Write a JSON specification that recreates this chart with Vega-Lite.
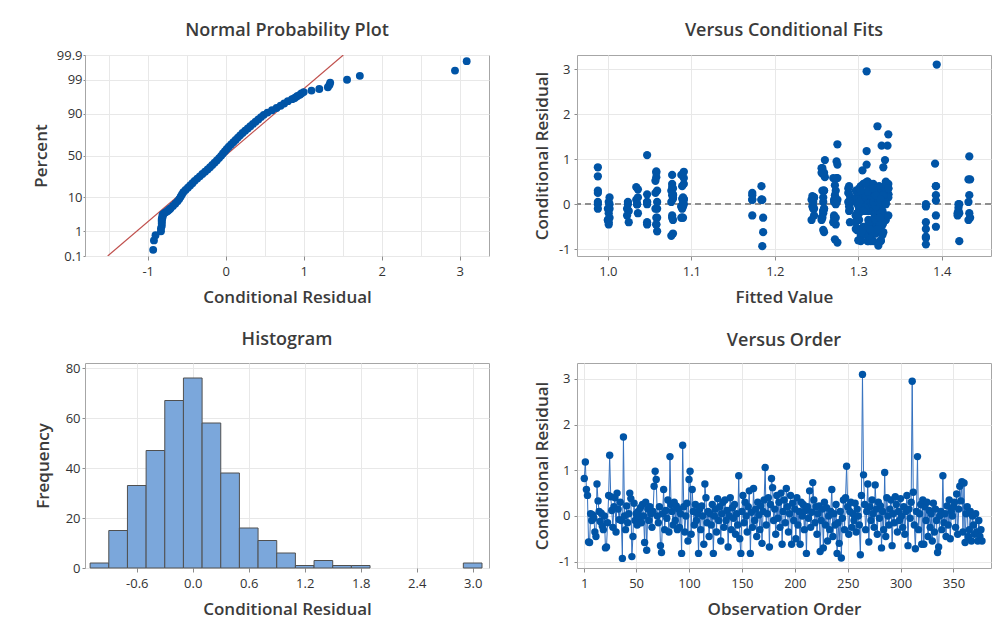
{
"$schema": "https://vega.github.io/schema/vega-lite/v6.json",
"background": "white",
"padding": {"left": 31, "top": 21, "right": 4, "bottom": 2},
"config": {
 "font": "Open Sans",
 "locale": {"number": {"decimal": ".", "thousands": ",", "grouping": [3], "currency": ["$", ""], "minus": "-"}},
 "view": {"stroke": "#a6a6a6", "strokeWidth": 1},
 "axis": {"domain": false, "grid": true, "gridColor": "#e8e8e8", "gridWidth": 1, "tickColor": "#8c8c8c", "tickSize": 4, "labelColor": "#333333", "labelFont": "Open Sans", "labelFontSize": 13, "labelPadding": 5, "titleColor": "#3b3b3b", "titleFont": "Open Sans", "titleFontSize": 17, "titleFontWeight": 600, "labelOverlap": false, "labelFlush": false, "titleBaseline": "alphabetic"},
 "axisLeft": {"tickSize": 3, "labelPadding": 4},
 "title": {"font": "Open Sans", "fontSize": 18, "fontWeight": 600, "color": "#3b3b3b", "anchor": "middle", "frame": "group", "baseline": "alphabetic"}
},
"datasets": {
 "hist": [{"b0":-1.1,"b1":-0.9,"n":2},{"b0":-0.9,"b1":-0.7,"n":15},{"b0":-0.7,"b1":-0.5,"n":33},{"b0":-0.5,"b1":-0.3,"n":47},{"b0":-0.3,"b1":-0.1,"n":67},{"b0":-0.1,"b1":0.1,"n":76},{"b0":0.1,"b1":0.3,"n":58},{"b0":0.3,"b1":0.5,"n":38},{"b0":0.5,"b1":0.7,"n":16},{"b0":0.7,"b1":0.9,"n":11},{"b0":0.9,"b1":1.1,"n":6},{"b0":1.1,"b1":1.3,"n":1},{"b0":1.3,"b1":1.5,"n":3},{"b0":1.5,"b1":1.7,"n":1},{"b0":1.7,"b1":1.9,"n":1},{"b0":2.9,"b1":3.1,"n":2}],
 "ppline": [{"x":-1.513,"z":-3.0902},{"x":1.508,"z":3.0902}],
 "pp": [{"x":-0.93,"z":-2.9},{"x":-0.92,"z":-2.61},{"x":-0.9,"z":-2.45},{"x":-0.83,"z":-2.33},{"x":-0.83,"z":-2.24},{"x":-0.82,"z":-2.17},{"x":-0.82,"z":-2.1},{"x":-0.82,"z":-2.045},{"x":-0.82,"z":-1.995},{"x":-0.82,"z":-1.95},{"x":-0.81,"z":-1.905},{"x":-0.81,"z":-1.866},{"x":-0.81,"z":-1.83},{"x":-0.8,"z":-1.795},{"x":-0.78,"z":-1.762},{"x":-0.76,"z":-1.732},{"x":-0.745,"z":-1.703},{"x":-0.73,"z":-1.676},{"x":-0.72,"z":-1.649},
 {"x":-0.706,"z":-1.62},{"x":-0.676,"z":-1.55},{"x":-0.647,"z":-1.48},{"x":-0.618,"z":-1.41},{"x":-0.596,"z":-1.34},{"x":-0.578,"z":-1.27},{"x":-0.561,"z":-1.2},{"x":-0.543,"z":-1.13},{"x":-0.515,"z":-1.06},{"x":-0.485,"z":-0.99},{"x":-0.456,"z":-0.92},{"x":-0.427,"z":-0.85},{"x":-0.398,"z":-0.78},{"x":-0.365,"z":-0.71},{"x":-0.332,"z":-0.64},{"x":-0.299,"z":-0.57},{"x":-0.265,"z":-0.5},{"x":-0.232,"z":-0.43},{"x":-0.201,"z":-0.36},{"x":-0.172,"z":-0.29},{"x":-0.143,"z":-0.22},{"x":-0.114,"z":-0.15},{"x":-0.085,"z":-0.08},{"x":-0.059,"z":-0.01},{"x":-0.035,"z":0.06},{"x":-0.01,"z":0.13},{"x":0.014,"z":0.2},{"x":0.04,"z":0.27},{"x":0.069,"z":0.34},{"x":0.098,"z":0.41},{"x":0.127,"z":0.48},{"x":0.156,"z":0.55},{"x":0.185,"z":0.62},{"x":0.216,"z":0.69},{"x":0.249,"z":0.76},{"x":0.283,"z":0.83},{"x":0.316,"z":0.9},{"x":0.349,"z":0.97},{"x":0.383,"z":1.04},{"x":0.418,"z":1.11},{"x":0.453,"z":1.18},{"x":0.488,"z":1.25},{"x":0.536,"z":1.32},{"x":0.594,"z":1.39},{"x":0.652,"z":1.46},{"x":0.704,"z":1.53},{"x":0.75,"z":1.6},{"x":0.797,"z":1.67},
 {"x":0.85,"z":1.732},{"x":0.88,"z":1.762},{"x":0.9,"z":1.795},{"x":0.92,"z":1.83},{"x":0.95,"z":1.866},{"x":0.97,"z":1.905},{"x":1.0,"z":1.95},{"x":1.1,"z":1.995},{"x":1.2,"z":2.045},{"x":1.31,"z":2.1},{"x":1.33,"z":2.17},{"x":1.34,"z":2.24},{"x":1.556,"z":2.33},{"x":1.72,"z":2.45},{"x":2.94,"z":2.61},{"x":3.09,"z":2.9}],
 "obs": [
{"o":1,"r":0.82,"f":0.988},{"o":2,"r":1.18,"f":1.31},{"o":3,"r":0.58,"f":1.275},{"o":4,"r":0.45,"f":1.077},{"o":5,"r":-0.57,"f":1.258},{"o":6,"r":-0.58,"f":1.299},{"o":7,"r":0.05,"f":1.001},{"o":8,"r":-0.1,"f":1.306},{"o":9,"r":0.02,"f":1.273},{"o":10,"r":-0.05,"f":1.09},
{"o":11,"r":-0.35,"f":1.312},{"o":12,"r":-0.45,"f":1.058},{"o":13,"r":0.7,"f":1.259},{"o":14,"r":0.33,"f":1.318},{"o":15,"r":0.1,"f":1.246},{"o":16,"r":-0.12,"f":1.324},{"o":17,"r":0.06,"f":1.289},{"o":18,"r":-0.22,"f":1.33},{"o":19,"r":-0.3,"f":1.271},{"o":20,"r":0.0,"f":1.035},
{"o":21,"r":-0.7,"f":1.303},{"o":22,"r":-0.68,"f":1.306},{"o":23,"r":-0.15,"f":1.309},{"o":24,"r":0.45,"f":1.091},{"o":25,"r":1.33,"f":1.275},{"o":26,"r":0.42,"f":1.315},{"o":27,"r":0.12,"f":1.078},{"o":28,"r":-0.25,"f":1.321},{"o":29,"r":0.2,"f":1.433},{"o":30,"r":0.4,"f":1.393},
{"o":31,"r":-0.35,"f":1.327},{"o":32,"r":0.5,"f":1.333},{"o":33,"r":0.15,"f":1.301},{"o":34,"r":-0.08,"f":1.42},{"o":35,"r":0.3,"f":1.314},{"o":36,"r":-0.1,"f":1.326},{"o":37,"r":-0.93,"f":1.185},{"o":38,"r":1.73,"f":1.323},{"o":39,"r":0.0,"f":1.024},{"o":40,"r":-0.3,"f":1.273},
{"o":41,"r":0.22,"f":1.336},{"o":42,"r":-0.15,"f":1.258},{"o":43,"r":0.05,"f":1.297},{"o":44,"r":0.5,"f":1.311},{"o":45,"r":0.38,"f":1.319},{"o":46,"r":-0.89,"f":1.381},{"o":47,"r":-0.45,"f":1.001},{"o":48,"r":0.28,"f":1.329},{"o":49,"r":-0.1,"f":1.247},{"o":50,"r":0.05,"f":1.047},
{"o":51,"r":-0.2,"f":1.299},{"o":52,"r":0.1,"f":1.184},{"o":53,"r":-0.05,"f":1.306},{"o":54,"r":0.18,"f":1.29},{"o":55,"r":-0.15,"f":1.312},{"o":56,"r":0.25,"f":1.318},{"o":57,"r":0.0,"f":0.988},{"o":58,"r":-0.58,"f":1.324},{"o":59,"r":0.3,"f":1.059},{"o":60,"r":-0.75,"f":1.381},
{"o":61,"r":0.15,"f":1.33},{"o":62,"r":-0.1,"f":1.089},{"o":63,"r":0.2,"f":1.303},{"o":64,"r":0.05,"f":1.076},{"o":65,"r":-0.25,"f":1.173},{"o":66,"r":0.1,"f":1.309},{"o":67,"r":0.65,"f":1.077},{"o":68,"r":0.98,"f":1.26},{"o":69,"r":0.8,"f":1.256},{"o":70,"r":0.0,"f":1.002},
{"o":71,"r":-0.15,"f":1.315},{"o":72,"r":0.2,"f":1.272},{"o":73,"r":-0.65,"f":1.321},{"o":74,"r":-0.8,"f":1.327},{"o":75,"r":0.05,"f":1.09},{"o":76,"r":0.58,"f":1.274},{"o":77,"r":-0.3,"f":1.058},{"o":78,"r":0.12,"f":1.333},{"o":79,"r":-0.05,"f":1.245},{"o":80,"r":0.35,"f":1.288},
{"o":81,"r":-0.35,"f":1.301},{"o":82,"r":1.3,"f":1.328},{"o":83,"r":0.25,"f":1.314},{"o":84,"r":0.1,"f":1.271},{"o":85,"r":-0.2,"f":1.036},{"o":86,"r":0.3,"f":1.326},{"o":87,"r":-0.1,"f":1.259},{"o":88,"r":0.22,"f":1.336},{"o":89,"r":-0.3,"f":1.088},{"o":90,"r":0.15,"f":1.078},
{"o":91,"r":-0.25,"f":1.297},{"o":92,"r":0.05,"f":1.432},{"o":93,"r":-0.82,"f":1.311},{"o":94,"r":1.55,"f":1.336},{"o":95,"r":0.2,"f":1.393},{"o":96,"r":-0.35,"f":1.319},{"o":97,"r":0.0,"f":1.421},{"o":98,"r":0.28,"f":1.329},{"o":99,"r":-0.55,"f":1.299},{"o":100,"r":0.8,"f":1.257},
{"o":101,"r":0.98,"f":1.332},{"o":102,"r":-0.4,"f":1.025},{"o":103,"r":0.58,"f":1.091},{"o":104,"r":0.1,"f":1.273},{"o":105,"r":-0.2,"f":1.258},{"o":106,"r":0.25,"f":1.306},{"o":107,"r":-0.1,"f":1.0},{"o":108,"r":0.05,"f":1.312},{"o":109,"r":-0.82,"f":1.318},{"o":110,"r":0.15,"f":1.247},
{"o":111,"r":-0.3,"f":1.324},{"o":112,"r":0.22,"f":1.047},{"o":113,"r":0.0,"f":1.33},{"o":114,"r":-0.62,"f":1.186},{"o":115,"r":0.7,"f":1.256},{"o":116,"r":0.4,"f":1.303},{"o":117,"r":-0.15,"f":1.289},{"o":118,"r":0.1,"f":1.309},{"o":119,"r":-0.45,"f":1.315},{"o":120,"r":0.05,"f":0.988},
{"o":121,"r":-0.2,"f":1.321},{"o":122,"r":0.25,"f":1.057},{"o":123,"r":-0.82,"f":1.327},{"o":124,"r":0.0,"f":1.381},{"o":125,"r":0.15,"f":1.09},{"o":126,"r":-0.35,"f":1.333},{"o":127,"r":0.38,"f":1.077},{"o":128,"r":-0.1,"f":1.301},{"o":129,"r":0.2,"f":1.173},{"o":130,"r":-0.55,"f":1.302},
{"o":131,"r":0.05,"f":1.314},{"o":132,"r":0.3,"f":1.259},{"o":133,"r":-0.25,"f":1.326},{"o":134,"r":0.35,"f":1.336},{"o":135,"r":-0.1,"f":1.001},{"o":136,"r":0.12,"f":1.297},{"o":137,"r":-0.68,"f":1.317},{"o":138,"r":0.0,"f":1.311},{"o":139,"r":0.4,"f":1.089},{"o":140,"r":-0.3,"f":1.059},
{"o":141,"r":0.18,"f":1.319},{"o":142,"r":-0.05,"f":1.246},{"o":143,"r":0.25,"f":1.329},{"o":144,"r":-0.4,"f":1.29},{"o":145,"r":0.05,"f":1.274},{"o":146,"r":-0.2,"f":1.299},{"o":147,"r":0.88,"f":1.31},{"o":148,"r":-0.5,"f":1.306},{"o":149,"r":-0.82,"f":1.312},{"o":150,"r":0.1,"f":1.034},
{"o":151,"r":0.45,"f":1.318},{"o":152,"r":-0.15,"f":1.258},{"o":153,"r":0.3,"f":1.324},{"o":154,"r":0.0,"f":1.091},{"o":155,"r":-0.35,"f":1.078},{"o":156,"r":0.2,"f":1.33},{"o":157,"r":0.55,"f":1.434},{"o":158,"r":-0.82,"f":1.303},{"o":159,"r":0.08,"f":1.393},{"o":160,"r":-0.25,"f":1.419},
{"o":161,"r":0.6,"f":1.058},{"o":162,"r":-0.1,"f":1.023},{"o":163,"r":0.15,"f":1.309},{"o":164,"r":-0.45,"f":1.273},{"o":165,"r":0.3,"f":1.257},{"o":166,"r":0.02,"f":1.315},{"o":167,"r":-0.3,"f":1.002},{"o":168,"r":0.22,"f":1.321},{"o":169,"r":-0.6,"f":1.327},{"o":170,"r":0.1,"f":1.244},
{"o":171,"r":0.35,"f":1.333},{"o":172,"r":1.06,"f":1.433},{"o":173,"r":-0.2,"f":1.301},{"o":174,"r":0.05,"f":1.047},{"o":175,"r":0.4,"f":1.184},{"o":176,"r":-0.68,"f":1.314},{"o":177,"r":0.25,"f":1.288},{"o":178,"r":0.82,"f":1.33},{"o":179,"r":0.62,"f":0.988},{"o":180,"r":-0.1,"f":1.059},
{"o":181,"r":0.15,"f":1.326},{"o":182,"r":-0.4,"f":1.381},{"o":183,"r":0.45,"f":1.336},{"o":184,"r":-0.05,"f":1.088},{"o":185,"r":0.3,"f":1.076},{"o":186,"r":-0.25,"f":1.297},{"o":187,"r":0.5,"f":1.311},{"o":188,"r":-0.62,"f":1.319},{"o":189,"r":0.1,"f":1.173},{"o":190,"r":0.35,"f":1.078},
{"o":191,"r":-0.15,"f":1.329},{"o":192,"r":0.6,"f":1.26},{"o":193,"r":0.2,"f":1.299},{"o":194,"r":-0.35,"f":1.0},{"o":195,"r":0.05,"f":1.271},{"o":196,"r":0.45,"f":1.306},{"o":197,"r":-0.62,"f":1.329},{"o":198,"r":0.28,"f":1.312},{"o":199,"r":-0.1,"f":1.057},{"o":200,"r":0.15,"f":1.247},
{"o":201,"r":-0.5,"f":1.318},{"o":202,"r":0.4,"f":1.289},{"o":203,"r":-0.2,"f":1.324},{"o":204,"r":0.1,"f":1.275},{"o":205,"r":-0.62,"f":1.33},{"o":206,"r":0.3,"f":1.303},{"o":207,"r":0.0,"f":1.035},{"o":208,"r":0.25,"f":1.309},{"o":209,"r":-0.3,"f":1.256},{"o":210,"r":0.12,"f":1.091},
{"o":211,"r":-0.82,"f":1.315},{"o":212,"r":0.2,"f":1.077},{"o":213,"r":-0.05,"f":1.321},{"o":214,"r":0.55,"f":1.432},{"o":215,"r":-0.25,"f":1.393},{"o":216,"r":0.08,"f":1.327},{"o":217,"r":0.73,"f":1.058},{"o":218,"r":0.35,"f":1.333},{"o":219,"r":-0.15,"f":1.42},{"o":220,"r":0.2,"f":1.301},
{"o":221,"r":-0.4,"f":1.314},{"o":222,"r":0.05,"f":1.024},{"o":223,"r":0.22,"f":1.326},{"o":224,"r":-0.78,"f":1.272},{"o":225,"r":-0.1,"f":1.259},{"o":226,"r":0.15,"f":1.336},{"o":227,"r":-0.7,"f":1.313},{"o":228,"r":0.3,"f":1.297},{"o":229,"r":-0.2,"f":1.001},{"o":230,"r":0.18,"f":1.245},
{"o":231,"r":-0.55,"f":1.311},{"o":232,"r":0.0,"f":1.047},{"o":233,"r":-0.3,"f":1.319},{"o":234,"r":0.1,"f":1.185},{"o":235,"r":0.58,"f":1.27},{"o":236,"r":-0.45,"f":1.329},{"o":237,"r":0.05,"f":1.29},{"o":238,"r":-0.2,"f":1.299},{"o":239,"r":0.25,"f":0.988},{"o":240,"r":-0.82,"f":1.421},
{"o":241,"r":-0.15,"f":1.306},{"o":242,"r":-0.6,"f":1.059},{"o":243,"r":0.1,"f":1.312},{"o":244,"r":-0.92,"f":1.324},{"o":245,"r":-0.05,"f":1.381},{"o":246,"r":0.35,"f":1.318},{"o":247,"r":-0.3,"f":1.089},{"o":248,"r":0.4,"f":1.325},{"o":249,"r":1.09,"f":1.047},{"o":250,"r":0.2,"f":1.078},
{"o":251,"r":-0.4,"f":1.33},{"o":252,"r":0.1,"f":1.173},{"o":253,"r":0.3,"f":1.303},{"o":254,"r":-0.25,"f":1.077},{"o":255,"r":0.05,"f":1.258},{"o":256,"r":-0.1,"f":1.309},{"o":257,"r":0.28,"f":1.315},{"o":258,"r":-0.35,"f":1.321},{"o":259,"r":0.15,"f":1.002},{"o":260,"r":0.0,"f":1.273},
{"o":261,"r":-0.2,"f":1.327},{"o":262,"r":-0.85,"f":1.275},{"o":263,"r":0.45,"f":1.333},{"o":264,"r":3.1,"f":1.394},{"o":265,"r":0.9,"f":1.392},{"o":266,"r":0.25,"f":1.301},{"o":267,"r":-0.3,"f":1.09},{"o":268,"r":0.1,"f":1.314},{"o":269,"r":0.7,"f":1.058},{"o":270,"r":-0.57,"f":1.322},
{"o":271,"r":0.2,"f":1.326},{"o":272,"r":-0.1,"f":1.246},{"o":273,"r":0.35,"f":1.336},{"o":274,"r":0.05,"f":1.288},{"o":275,"r":-0.25,"f":1.271},{"o":276,"r":0.68,"f":1.257},{"o":277,"r":0.15,"f":1.036},{"o":278,"r":-0.4,"f":1.297},{"o":279,"r":0.3,"f":1.259},{"o":280,"r":-0.05,"f":1.088},
{"o":281,"r":0.22,"f":1.311},{"o":282,"r":-0.7,"f":1.076},{"o":283,"r":0.1,"f":1.319},{"o":284,"r":-0.3,"f":1.434},{"o":285,"r":0.95,"f":1.274},{"o":286,"r":-0.45,"f":1.329},{"o":287,"r":0.4,"f":1.393},{"o":288,"r":0.0,"f":1.299},{"o":289,"r":-0.2,"f":1.419},{"o":290,"r":0.15,"f":1.306},
{"o":291,"r":0.35,"f":1.312},{"o":292,"r":-0.65,"f":1.308},{"o":293,"r":0.05,"f":1.318},{"o":294,"r":-0.15,"f":1.025},{"o":295,"r":0.42,"f":1.272},{"o":296,"r":0.25,"f":1.324},{"o":297,"r":-0.35,"f":1.256},{"o":298,"r":0.1,"f":1.33},{"o":299,"r":-0.1,"f":1.001},{"o":300,"r":0.38,"f":1.034},
{"o":301,"r":0.0,"f":1.303},{"o":302,"r":-0.25,"f":1.247},{"o":303,"r":0.2,"f":1.309},{"o":304,"r":-0.4,"f":1.047},{"o":305,"r":0.1,"f":1.184},{"o":306,"r":0.45,"f":1.315},{"o":307,"r":-0.65,"f":1.078},{"o":308,"r":0.15,"f":1.321},{"o":309,"r":-0.05,"f":1.289},{"o":310,"r":0.3,"f":0.988},
{"o":311,"r":2.95,"f":1.31},{"o":312,"r":0.52,"f":1.057},{"o":313,"r":-0.2,"f":1.327},{"o":314,"r":-0.72,"f":1.381},{"o":315,"r":0.1,"f":1.091},{"o":316,"r":1.3,"f":1.335},{"o":317,"r":-0.3,"f":1.077},{"o":318,"r":0.05,"f":1.333},{"o":319,"r":0.25,"f":1.173},{"o":320,"r":-0.62,"f":1.304},
{"o":321,"r":0.35,"f":1.301},{"o":322,"r":-0.62,"f":1.259},{"o":323,"r":0.2,"f":1.314},{"o":324,"r":-0.1,"f":1.002},{"o":325,"r":0.3,"f":1.273},{"o":326,"r":-0.45,"f":1.326},{"o":327,"r":0.12,"f":1.089},{"o":328,"r":-0.25,"f":1.336},{"o":329,"r":0.05,"f":1.059},{"o":330,"r":-0.55,"f":1.297},
{"o":331,"r":0.28,"f":1.311},{"o":332,"r":-0.35,"f":1.244},{"o":333,"r":0.15,"f":1.319},{"o":334,"r":-0.1,"f":1.29},{"o":335,"r":-0.8,"f":1.3},{"o":336,"r":-0.68,"f":1.329},{"o":337,"r":0.0,"f":1.035},{"o":338,"r":0.1,"f":1.299},{"o":339,"r":-0.3,"f":1.257},{"o":340,"r":0.88,"f":1.275},
{"o":341,"r":-0.15,"f":1.306},{"o":342,"r":0.05,"f":1.09},{"o":343,"r":-0.45,"f":1.312},{"o":344,"r":0.22,"f":1.078},{"o":345,"r":-0.2,"f":1.433},{"o":346,"r":0.35,"f":1.318},{"o":347,"r":-0.5,"f":1.393},{"o":348,"r":0.1,"f":1.324},{"o":349,"r":0.0,"f":1.42},{"o":350,"r":0.2,"f":1.33},
{"o":351,"r":0.3,"f":1.303},{"o":352,"r":-0.25,"f":1.023},{"o":353,"r":0.48,"f":1.309},{"o":354,"r":-0.4,"f":1.27},{"o":355,"r":0.15,"f":1.258},{"o":356,"r":0.65,"f":1.088},{"o":357,"r":0.33,"f":1.036},{"o":358,"r":0.75,"f":1.305},{"o":359,"r":-0.35,"f":1.0},{"o":360,"r":0.72,"f":1.091},
{"o":361,"r":-0.58,"f":1.315},{"o":362,"r":0.05,"f":1.246},{"o":363,"r":0.2,"f":1.321},{"o":364,"r":-0.45,"f":1.047},{"o":365,"r":-0.3,"f":1.186},{"o":366,"r":0.1,"f":1.327},{"o":367,"r":-0.55,"f":1.323},{"o":368,"r":0.0,"f":1.333},{"o":369,"r":-0.2,"f":1.421},{"o":370,"r":-0.4,"f":1.001},
{"o":371,"r":0.05,"f":1.301},{"o":372,"r":-0.35,"f":1.432},{"o":373,"r":-0.55,"f":1.314},{"o":374,"r":-0.1,"f":0.988},{"o":375,"r":-0.45,"f":1.058},{"o":376,"r":-0.3,"f":1.326},{"o":377,"r":-0.55,"f":1.381}
 ]
},
"columns": 2,
"bounds": "flush",
"spacing": {"row": 107, "column": 88},
"concat": [
 {
  "width": 404, "height": 201,
  "title": {"text": "Normal Probability Plot", "offset": 9},
  "layer": [
   {"data": {"name": "ppline"},
    "mark": {"type": "line", "color": "#c0504d", "strokeWidth": 1.2, "clip": true},
    "encoding": {
     "x": {"field": "x", "type": "quantitative", "scale": {"domain": [-1.804, 3.376], "nice": false, "zero": false},
           "axis": {"orient": "top", "values": [-1.5,-1,-0.5,0,0.5,1,1.5,2,2.5,3], "grid": true, "labels": false, "ticks": false, "domain": false, "title": null, "minExtent": 0, "maxExtent": 0}},
     "y": {"field": "z", "type": "quantitative", "scale": {"domain": [-3.0902, 3.0902], "nice": false, "zero": false},
           "axis": {"values": [-3.0902,-2.3263,-1.2816,0,1.2816,2.3263,3.0902], "labelExpr": "datum.value < -3 ? '0.1' : datum.value < -2 ? '1' : datum.value < -1 ? '10' : datum.value < 1 ? '50' : datum.value < 2 ? '90' : datum.value < 3 ? '99' : '99.9'", "labelOverlap": false, "labelBound": false, "title": "Percent", "tickSize": 2, "labelPadding": 1, "titleX": -39}}
    }},
   {"data": {"name": "pp"},
    "mark": {"type": "circle", "size": 62, "color": "#0054a6", "opacity": 1},
    "encoding": {
     "x": {"field": "x", "type": "quantitative", "axis": {"orient": "bottom", "values": [-1,0,1,2,3], "grid": false, "title": "Conditional Residual", "titleY": 46.5}},
     "y": {"field": "z", "type": "quantitative", "axis": {"values": [-3.0902,-2.3263,-1.2816,0,1.2816,2.3263,3.0902], "labelExpr": "datum.value < -3 ? '0.1' : datum.value < -2 ? '1' : datum.value < -1 ? '10' : datum.value < 1 ? '50' : datum.value < 2 ? '90' : datum.value < 3 ? '99' : '99.9'", "labelOverlap": false, "labelBound": false, "title": "Percent", "tickSize": 2, "labelPadding": 1, "titleX": -39}}
    }}
  ],
  "resolve": {"axis": {"x": "independent"}}
 },
 {
  "width": 414, "height": 201,
  "title": {"text": "Versus Conditional Fits", "offset": 15},
  "data": {"name": "obs"},
  "layer": [
   {"mark": {"type": "rule", "color": "#8f8f8f", "strokeDash": [6, 4], "strokeWidth": 1},
    "encoding": {"y": {"datum": 0, "type": "quantitative"}}},
   {"mark": {"type": "circle", "size": 68, "color": "#0054a6", "opacity": 1},
    "encoding": {
     "x": {"field": "f", "type": "quantitative", "scale": {"domain": [0.963, 1.459], "nice": false, "zero": false},
           "axis": {"values": [1.0,1.1,1.2,1.3,1.4], "format": ".1f", "title": "Fitted Value", "titleY": 46.5}},
     "y": {"field": "r", "type": "quantitative", "scale": {"domain": [-1.149, 3.311], "nice": false, "zero": false},
           "axis": {"values": [-1,0,1,2,3], "title": "Conditional Residual", "titleX": -30}}
    }}
  ]
 },
 {
  "width": 404, "height": 205,
  "title": {"text": "Histogram", "offset": 13.5},
  "data": {"name": "hist"},
  "mark": {"type": "rect", "fill": "#7ba7db", "stroke": "#505050", "strokeWidth": 1},
  "encoding": {
   "x": {"field": "b0", "type": "quantitative", "scale": {"domain": [-1.155, 3.175], "nice": false, "zero": false},
         "axis": {"values": [-0.6,0,0.6,1.2,1.8,2.4,3.0], "format": ".1f", "title": "Conditional Residual", "titleY": 46}},
   "x2": {"field": "b1"},
   "y": {"field": "n", "type": "quantitative", "scale": {"domain": [0, 82], "nice": false},
         "axis": {"values": [0,20,40,60,80], "title": "Frequency", "titleX": -37, "labelPadding": 2}},
   "y2": {"datum": 0}
  }
 },
 {
  "width": 414, "height": 205,
  "title": {"text": "Versus Order", "offset": 13.5},
  "data": {"name": "obs"},
  "layer": [
   {"mark": {"type": "line", "color": "#3471bf", "strokeWidth": 1},
    "encoding": {
     "x": {"field": "o", "type": "quantitative", "scale": {"domain": [-5.9, 385.5], "nice": false, "zero": false},
           "axis": {"values": [1,50,100,150,200,250,300,350], "title": "Observation Order", "titleY": 46.5}},
     "y": {"field": "r", "type": "quantitative", "scale": {"domain": [-1.14, 3.35], "nice": false, "zero": false},
           "axis": {"values": [-1,0,1,2,3], "title": "Conditional Residual", "titleX": -30}}
    }},
   {"mark": {"type": "circle", "size": 55, "color": "#0054a6", "opacity": 1},
    "encoding": {
     "x": {"field": "o", "type": "quantitative"},
     "y": {"field": "r", "type": "quantitative"}
    }}
  ]
 }
]
}
